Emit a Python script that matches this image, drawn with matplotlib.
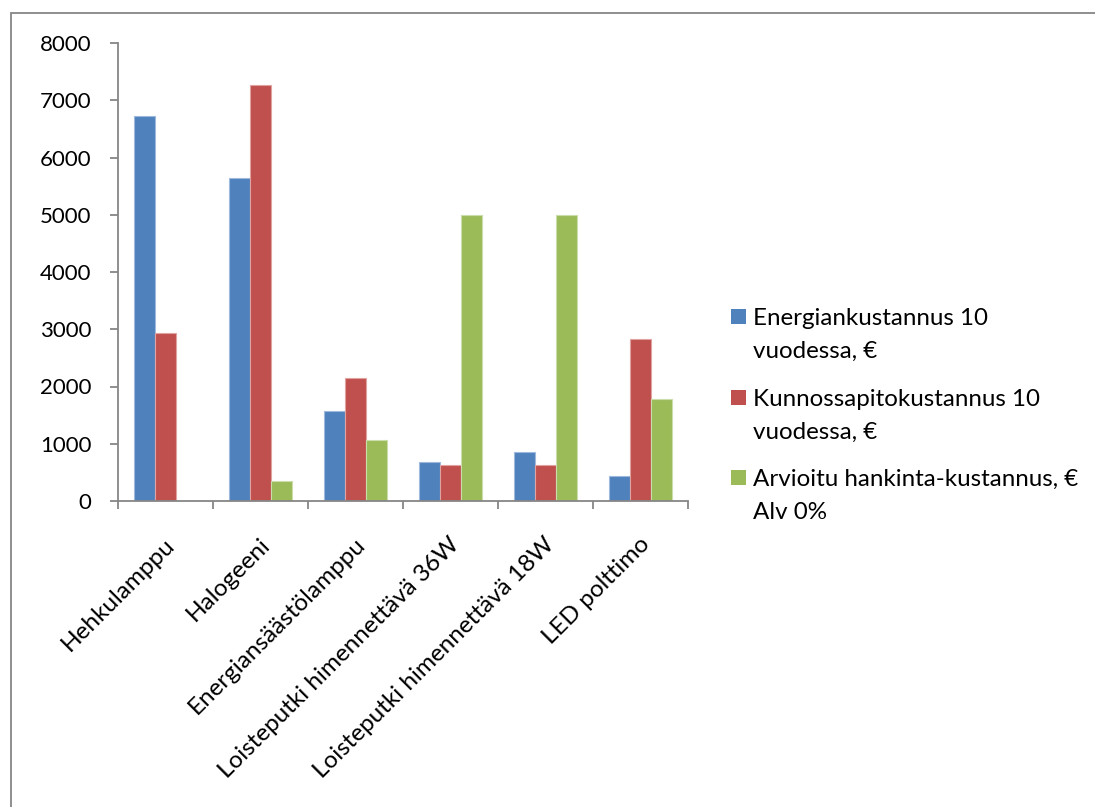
import matplotlib as mpl
import matplotlib.pyplot as plt
import matplotlib.transforms as mtransforms
from matplotlib.patches import Rectangle
import numpy as np

mpl.use('Agg')

mpl.rc("font", family="Lato", size=16)

# lamp types and their costs over ten years
lamps = ["Hehkulamppu", "Halogeeni", "Energiansäästölamppu",
         "Loisteputki himennettävä 36W", "Loisteputki himennettävä 18W",
         "LED polttimo"]
energy = [6720, 5650, 1565, 686, 855, 442]
maintenance = [2940, 7270, 2147, 634, 634, 2833]
purchase = [0, 355, 1065, 5000, 5000, 1774]

seriesNames = [["Energiankustannus 10", "vuodessa, €"],
               ["Kunnossapitokustannus 10", "vuodessa, €"],
               ["Arvioitu hankinta-kustannus, €", "Alv 0%"]]
colors = ["#4F81BD", "#C0504D", "#9BBB59"]
edges = ["#9DB9DE", "#E0A3A1", "#CBDDA8"]

W, H = 1095, 807
fig = plt.figure(figsize=(W / 100, H / 100), dpi=100)

# outer chart frame, running off the right and bottom edge
fig.patches.append(Rectangle((10.5 / W, -0.1), 1.2, 1.1 - 13 / H,
                             transform=fig.transFigure, fill=False,
                             edgecolor="#868686", lw=1.3))

ax = fig.add_axes([118 / W, 1 - 501 / H, 570 / W, 458 / H])

x = np.arange(len(lamps))
w = 1 / 4.5
for i, vals in enumerate([energy, maintenance, purchase]):
    ax.bar(x + (i - 1) * w, vals, width=w, color=colors[i],
           edgecolor=edges[i], linewidth=0.8, zorder=2)

ax.set_xlim(-0.5, len(lamps) - 0.5)
ax.set_ylim(0, 8000)
ax.set_yticks(np.arange(0, 8001, 1000))

ax.set_xticks(np.arange(-0.5, len(lamps)), labels=[])
ax.set_xticks(x, labels=lamps, minor=True)
ax.tick_params(axis="x", which="major", length=6, width=1.3, color="#868686")
ax.tick_params(axis="x", which="minor", length=0, pad=29, labelsize=17.5)
ax.tick_params(axis="y", length=6, width=1.3, color="#868686", pad=13)
offset = mtransforms.ScaledTranslation(6 / 100, 0, fig.dpi_scale_trans)
for lab in ax.get_xticklabels(minor=True):
    lab.set_rotation(45)
    lab.set_ha("right")
    lab.set_va("center")
    lab.set_rotation_mode("anchor")
    lab.set_transform(lab.get_transform() + offset)

for side in ["top", "right"]:
    ax.spines[side].set_visible(False)
for side in ["left", "bottom"]:
    ax.spines[side].set_color("#868686")
    ax.spines[side].set_linewidth(1.3)

# legend at the right, square marker beside the first line of each label
for i, lines in enumerate(seriesNames):
    yb = 325 + i * 80.5
    fig.patches.append(Rectangle((731 / W, 1 - (yb - 1) / H), 15 / W, 15 / H,
                                 transform=fig.transFigure,
                                 facecolor=colors[i], edgecolor="none"))
    for j, line in enumerate(lines):
        fig.text(752.7 / W, 1 - (yb + 33 * j) / H, line, va="baseline",
                 ha="left", fontsize=17.4)

fig.savefig("out.png", dpi=100)
